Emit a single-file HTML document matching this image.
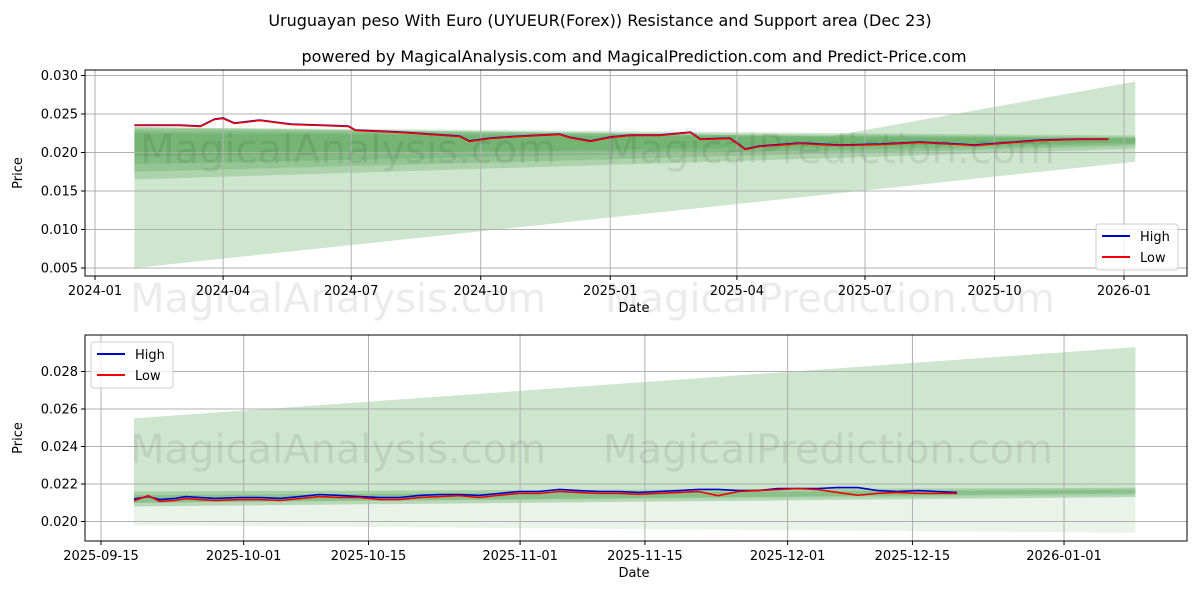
<!DOCTYPE html>
<html><head><meta charset="utf-8"><style>
body{margin:0;background:#fff;font-family:"Liberation Sans","DejaVu Sans",sans-serif}
svg text{font-family:"DejaVu Sans","Liberation Sans",sans-serif}
</style></head><body>
<svg id="s" width="1200" height="600" viewBox="0 0 1200 600">
<text x="600" y="26" text-anchor="middle" font-size="16">Uruguayan peso With Euro (UYUEUR(Forex)) Resistance and Support area (Dec 23)</text>
<text x="634" y="62" text-anchor="middle" font-size="16">powered by MagicalAnalysis.com and MagicalPrediction.com and Predict-Price.com</text>
</svg>
<script>
const topDays=[28,60,75,85,91,99,117,139,160,180,185,202,217,238,259,266,281,302,316,330,337,352,366,380,401,423,430,451,462,472,501,529,558,586,614,625,643,671,700,720];
const topHigh=[0.02357,0.02357,0.02344,0.02435,0.02448,0.02383,0.02422,0.0237,0.02357,0.02344,0.02292,0.02279,0.02266,0.0224,0.02214,0.0215,0.02188,0.02214,0.02227,0.0224,0.022,0.0215,0.022,0.02227,0.02227,0.02266,0.02175,0.02188,0.02045,0.02084,0.02123,0.02097,0.0211,0.02136,0.0211,0.02097,0.02123,0.02162,0.02175,0.02175];
const topTickDays=[0,91,182,274,366,456,547,639,731];
const topTickLabels=["2024-01","2024-04","2024-07","2024-10","2025-01","2025-04","2025-07","2025-10","2026-01"];
const topYTicks=[0.005,0.010,0.015,0.020,0.025,0.030];
const botDays=[3.7,5.3,6.6,8.3,9.5,11.1,12.8,15.6,17.8,20.1,22.3,24.5,26.8,29,31.3,33.5,35.7,38,40.2,42.4,44.7,46.9,49.1,51.4,53.6,55.8,58.1,60.3,62.5,64.8,67,69.2,71.5,73.7,75.9,78.2,80.4,82.6,84.9,87.1,89.3,91.6,93.8,96];
const botHigh=[0.0212,0.02133,0.02117,0.02123,0.02133,0.02128,0.02123,0.02128,0.02128,0.02123,0.02133,0.02144,0.02139,0.02133,0.02128,0.02128,0.02139,0.02144,0.02144,0.02139,0.0215,0.0216,0.0216,0.02171,0.02165,0.0216,0.0216,0.02155,0.0216,0.02165,0.02171,0.02171,0.02165,0.02165,0.02176,0.02176,0.02176,0.02181,0.02181,0.02165,0.0216,0.02165,0.0216,0.02155];
const botLow=[0.0211,0.02138,0.02107,0.02112,0.02122,0.02117,0.02112,0.02117,0.02117,0.02112,0.02122,0.02133,0.02128,0.02128,0.02117,0.02117,0.02128,0.02133,0.02138,0.02128,0.0214,0.0215,0.0215,0.0216,0.02155,0.0215,0.0215,0.02145,0.0215,0.02155,0.0216,0.02138,0.0216,0.02165,0.0217,0.02176,0.0217,0.02155,0.0214,0.0215,0.02155,0.0215,0.0215,0.0215];
const botTickDays=[0,16,30,47,61,77,91,108];
const botTickLabels=["2025-09-15","2025-10-01","2025-10-15","2025-11-01","2025-11-15","2025-12-01","2025-12-15","2026-01-01"];
const botYTicks=[0.020,0.022,0.024,0.026,0.028];
const NS="http://www.w3.org/2000/svg",S=document.getElementById('s');
function mk(t,a,p){const e=document.createElementNS(NS,t);for(const k in a)e.setAttribute(k,a[k]);(p||S).appendChild(e);return e;}
function panel(P){
 const g=mk('g',{});
 
 
 const X=d=>P.x0+d*P.kx, Y=v=>P.y0+(v-P.v0)*P.ky;
 P.polys.forEach(b=>{const p=mk('polygon',{points:b[0].map(q=>X(q[0])+','+Y(q[1])).join(' '),fill:'#4a9e4a','fill-opacity':b[1]},g);
  });
 P.bands.forEach(b=>{const p=mk('polygon',{points:`${X(P.d1)},${Y(b[0])} ${X(P.d2)},${Y(b[2])} ${X(P.d2)},${Y(b[3])} ${X(P.d1)},${Y(b[1])}`,fill:b[4],'fill-opacity':b[5]},g);
  });
 P.ticks.forEach((d,i)=>{mk('line',{x1:X(d),x2:X(d),y1:P.top,y2:P.bot,stroke:'#b0b0b0','stroke-width':1},g);
  mk('line',{x1:X(d),x2:X(d),y1:P.bot,y2:P.bot+4,stroke:'#000'},g);
  const t=mk('text',{x:X(d),y:P.bot+19,'text-anchor':'middle','font-size':13},g);t.textContent=P.tl[i];
  });
 P.yt.forEach(v=>{mk('line',{x1:P.left,x2:P.right,y1:Y(v),y2:Y(v),stroke:'#b0b0b0'},g);
  mk('line',{x1:P.left-4,x2:P.left,y1:Y(v),y2:Y(v),stroke:'#000'},g);
  const t=mk('text',{x:P.left-7,y:Y(v)+4.5,'text-anchor':'end','font-size':13},g);t.textContent=v.toFixed(3);
  });
 P.wm.forEach(w=>{const t=mk('text',{x:w[0],y:w[1],'font-size':40,fill:'#000','fill-opacity':0.08},g);t.textContent=w[2];
  });
 const hl=mk('polyline',{points:P.days.map((d,i)=>X(d)+','+Y(P.hi[i])).join(' '),fill:'none',stroke:'#0000cc','stroke-width':1.6},g);
 
 const ll=mk('polyline',{points:P.days.map((d,i)=>X(d)+','+Y(P.lo[i])).join(' '),fill:'none',stroke:'#ee0000','stroke-width':1.6},g);
 
 mk('rect',{x:P.left,y:P.top,width:P.right-P.left,height:P.bot-P.top,fill:'none',stroke:'#000'},g);
 const yl=mk('text',{x:0,y:0,'font-size':13,'text-anchor':'middle',transform:`translate(${P.left-63},${(P.top+P.bot)/2}) rotate(-90)`},g);yl.textContent='Price';
 
 const xl=mk('text',{x:(P.left+P.right)/2-2,y:P.bot+36,'font-size':13,'text-anchor':'middle'},g);xl.textContent='Date';
 
 const L=mk('g',{},g);
 const [lx,ly]=P.leg;
 mk('rect',{x:lx,y:ly,width:82,height:46,rx:3,fill:'#fff','fill-opacity':0.8,stroke:'#ccc'},L);
 mk('line',{x1:lx+6,x2:lx+34,y1:ly+12,y2:ly+12,stroke:'#0000cc','stroke-width':2},L);
 mk('line',{x1:lx+6,x2:lx+34,y1:ly+33,y2:ly+33,stroke:'#ee0000','stroke-width':2},L);
 let t=mk('text',{x:lx+44,y:ly+17,'font-size':13},L);t.textContent='High';
 t=mk('text',{x:lx+44,y:ly+38,'font-size':13},L);t.textContent='Low';
}
panel({name:'top-panel',left:85,right:1187,top:70,bot:276,x0:95,kx:1.4077,y0:114,v0:0.025,ky:-38.5/0.005,
 d1:28,d2:739,ticks:topTickDays,tl:topTickLabels,yt:topYTicks,days:topDays,hi:topHigh,lo:topHigh.map(v=>v-0.00006),
 polys:[[[[28,0.005],[28,0.0233],[522,0.0221],[739,0.0292],[739,0.0188]],0.27]],
 bands:[[0.0233,0.0165,0.0222,0.0205,'#4a9e4a',0.25],[0.0231,0.0175,0.0220,0.0209,'#4a9e4a',0.25],[0.0228,0.0185,0.0219,0.0211,'#4a9e4a',0.25],[0.0225,0.0195,0.0218,0.0213,'#4a9e4a',0.25]],
 wm:[[140,163,'MagicalAnalysis.com'],[605,163,'MagicalPrediction.com'],[130,312,'MagicalAnalysis.com'],[605,312,'MagicalPrediction.com']],leg:[1096,224]});
panel({name:'bottom-panel',left:85,right:1187,top:335,bot:541,x0:101,kx:8.917,y0:484,v0:0.022,ky:-37.5/0.002,
 d1:3.7,d2:116,ticks:botTickDays,tl:botTickLabels,yt:botYTicks,days:botDays,hi:botHigh,lo:botLow,
 polys:[],
 bands:[[0.0255,0.0210,0.0293,0.0214,'#4a9e4a',0.27],[0.0210,0.0198,0.0214,0.0194,'#4a9e4a',0.12],[0.0216,0.0208,0.0218,0.0213,'#4a9e4a',0.3],[0.0214,0.0210,0.0217,0.0215,'#4a9e4a',0.3]],
 wm:[[130,463,'MagicalAnalysis.com'],[603,463,'MagicalPrediction.com']],leg:[91,342]});
</script>
</body></html>
